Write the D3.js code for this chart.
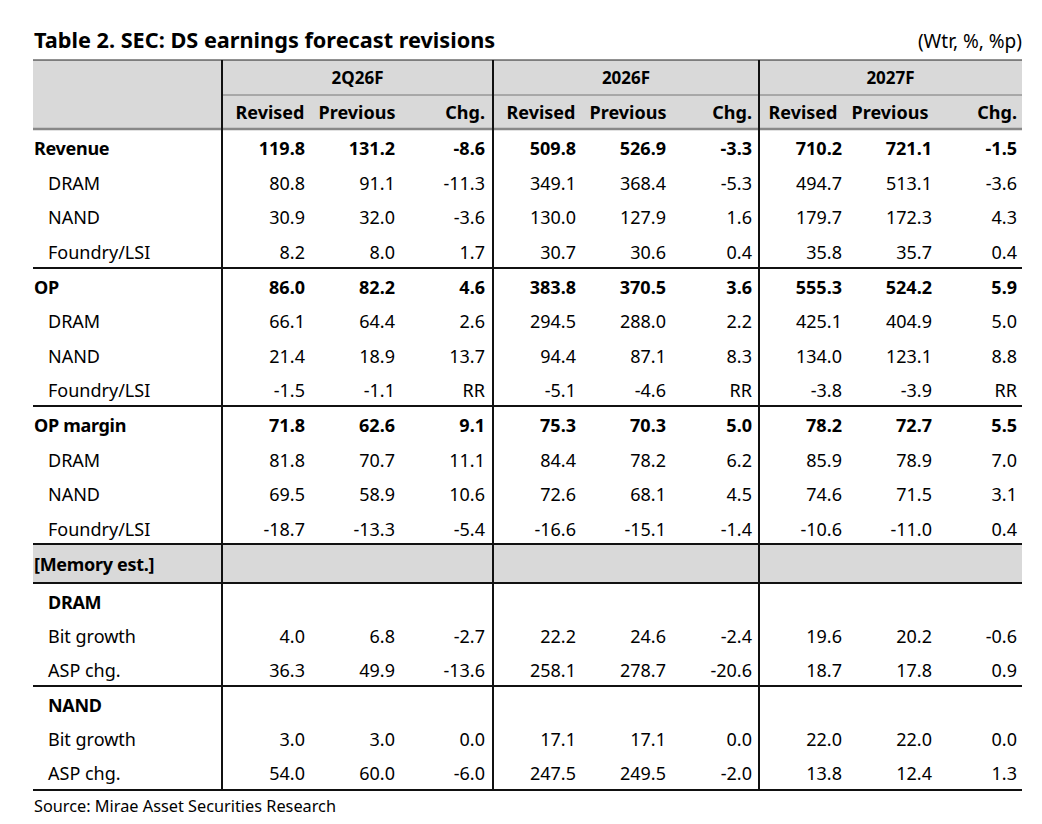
<!DOCTYPE html>
<html><head><meta charset="utf-8">
<script src="https://cdn.jsdelivr.net/npm/d3@7"></script>
<style>body{margin:0;background:#fff}svg{font-family:"Noto Sans",sans-serif}</style>
</head><body><svg id="c" width="1042" height="824"></svg>
<script>
const periods = ["2Q26F", "2026F", "2027F"];
const subHeads = ["Revised", "Previous", "Chg."];
// label, level (0 = bold main, 1 = indented), values
const labels = ["Revenue","DRAM","NAND","Foundry/LSI","OP","DRAM","NAND","Foundry/LSI","OP margin","DRAM","NAND","Foundry/LSI"];
const levels = [0,1,1,1,0,1,1,1,0,1,1,1];
const values = [
  ["119.8","131.2","-8.6","509.8","526.9","-3.3","710.2","721.1","-1.5"],
  ["80.8","91.1","-11.3","349.1","368.4","-5.3","494.7","513.1","-3.6"],
  ["30.9","32.0","-3.6","130.0","127.9","1.6","179.7","172.3","4.3"],
  ["8.2","8.0","1.7","30.7","30.6","0.4","35.8","35.7","0.4"],
  ["86.0","82.2","4.6","383.8","370.5","3.6","555.3","524.2","5.9"],
  ["66.1","64.4","2.6","294.5","288.0","2.2","425.1","404.9","5.0"],
  ["21.4","18.9","13.7","94.4","87.1","8.3","134.0","123.1","8.8"],
  ["-1.5","-1.1","RR","-5.1","-4.6","RR","-3.8","-3.9","RR"],
  ["71.8","62.6","9.1","75.3","70.3","5.0","78.2","72.7","5.5"],
  ["81.8","70.7","11.1","84.4","78.2","6.2","85.9","78.9","7.0"],
  ["69.5","58.9","10.6","72.6","68.1","4.5","74.6","71.5","3.1"],
  ["-18.7","-13.3","-5.4","-16.6","-15.1","-1.4","-10.6","-11.0","0.4"]
];
const memLabels = ["DRAM","Bit growth","ASP chg.","NAND","Bit growth","ASP chg."];
const memValues = [
  null,
  ["4.0","6.8","-2.7","22.2","24.6","-2.4","19.6","20.2","-0.6"],
  ["36.3","49.9","-13.6","258.1","278.7","-20.6","18.7","17.8","0.9"],
  null,
  ["3.0","3.0","0.0","17.1","17.1","0.0","22.0","22.0","0.0"],
  ["54.0","60.0","-6.0","247.5","249.5","-2.0","13.8","12.4","1.3"]
];

const svg = d3.select("#c");
const L = 33, R = 1022, sep = [222, 493, 759];
const colRight = [305,395,485,576,666,752,842,932,1017];
const headX = [270,357];
const rowY = d3.scaleLinear().domain([0, 1]).range([148, 182.5]);

svg.append("text").attr("x", 34).attr("y", 48).attr("font-size", 21.7).attr("font-weight", "bold").text("Table 2. SEC: DS earnings forecast revisions");
svg.append("text").attr("x", R).attr("y", 48).attr("font-size", 19).attr("text-anchor", "end").text("(Wtr, %, %p)");

// header background
svg.append("rect").attr("x", L).attr("y", 60).attr("width", R - L).attr("height", 69).attr("fill", "#d9d9d9");
svg.append("rect").attr("x", L).attr("y", 545).attr("width", R - L).attr("height", 38).attr("fill", "#d9d9d9");

const ln = (x1,y1,x2,y2,c,w) => svg.append("line").attr("x1",x1).attr("y1",y1).attr("x2",x2).attr("y2",y2).attr("stroke",c).attr("stroke-width",w);
ln(L, 60, R, 60, "#222", 1);
ln(sep[0], 95, R, 95, "#777", 1);
ln(L, 129, R, 129, "#888", 2.5);
[268, 406, 544, 583, 686, 790].forEach(y => ln(L, y, R, y, "#111", 2));
sep.forEach(x => ln(x, 60, x, 790, "#111", 2));

const bounds = [sep[0], sep[1], sep[2], R];
periods.forEach((p, i) => {
  svg.append("text").attr("x", (bounds[i] + bounds[i+1]) / 2).attr("y", 84).attr("text-anchor", "middle")
    .attr("font-size", 17).attr("font-weight", "bold").text(p);
  subHeads.forEach((h, j) => {
    const x = j < 2 ? headX[j] + (bounds[i] - sep[0]) + (i === 2 ? -4 : 0) : colRight[i*3+2];
    svg.append("text").attr("x", x).attr("y", 119).attr("text-anchor", j < 2 ? "middle" : "end")
      .attr("font-size", 18).attr("font-weight", "bold").text(h);
  });
});

function drawRow(y, label, indent, bold, vals) {
  svg.append("text").attr("x", indent ? 48 : 34).attr("y", y + 7).attr("font-size", 18)
    .attr("font-weight", bold ? "bold" : "normal").attr("letter-spacing", bold ? -0.3 : 0).text(label);
  if (!vals) return;
  vals.forEach((v, k) => svg.append("text").attr("x", colRight[k]).attr("y", y + 7).attr("text-anchor", "end")
    .attr("font-size", 18).attr("font-weight", bold ? "bold" : "normal").text(v));
}

labels.forEach((lab, i) => {
  const blk = Math.floor(i / 4), r = i % 4;
  const y = rowY(r) + blk * 138.5;
  drawRow(y, lab, levels[i] === 1, levels[i] === 0, values[i]);
});
drawRow(564, "[Memory est.]", false, true, null);
memLabels.forEach((lab, i) => {
  const blk = Math.floor(i / 3), r = i % 3;
  const y = 602 + r * 34 + blk * 103;
  drawRow(y, lab, true, memValues[i] === null, memValues[i]);
});

svg.append("text").attr("x", 34).attr("y", 812).attr("font-size", 16.3).text("Source: Mirae Asset Securities Research");
</script></body></html>
